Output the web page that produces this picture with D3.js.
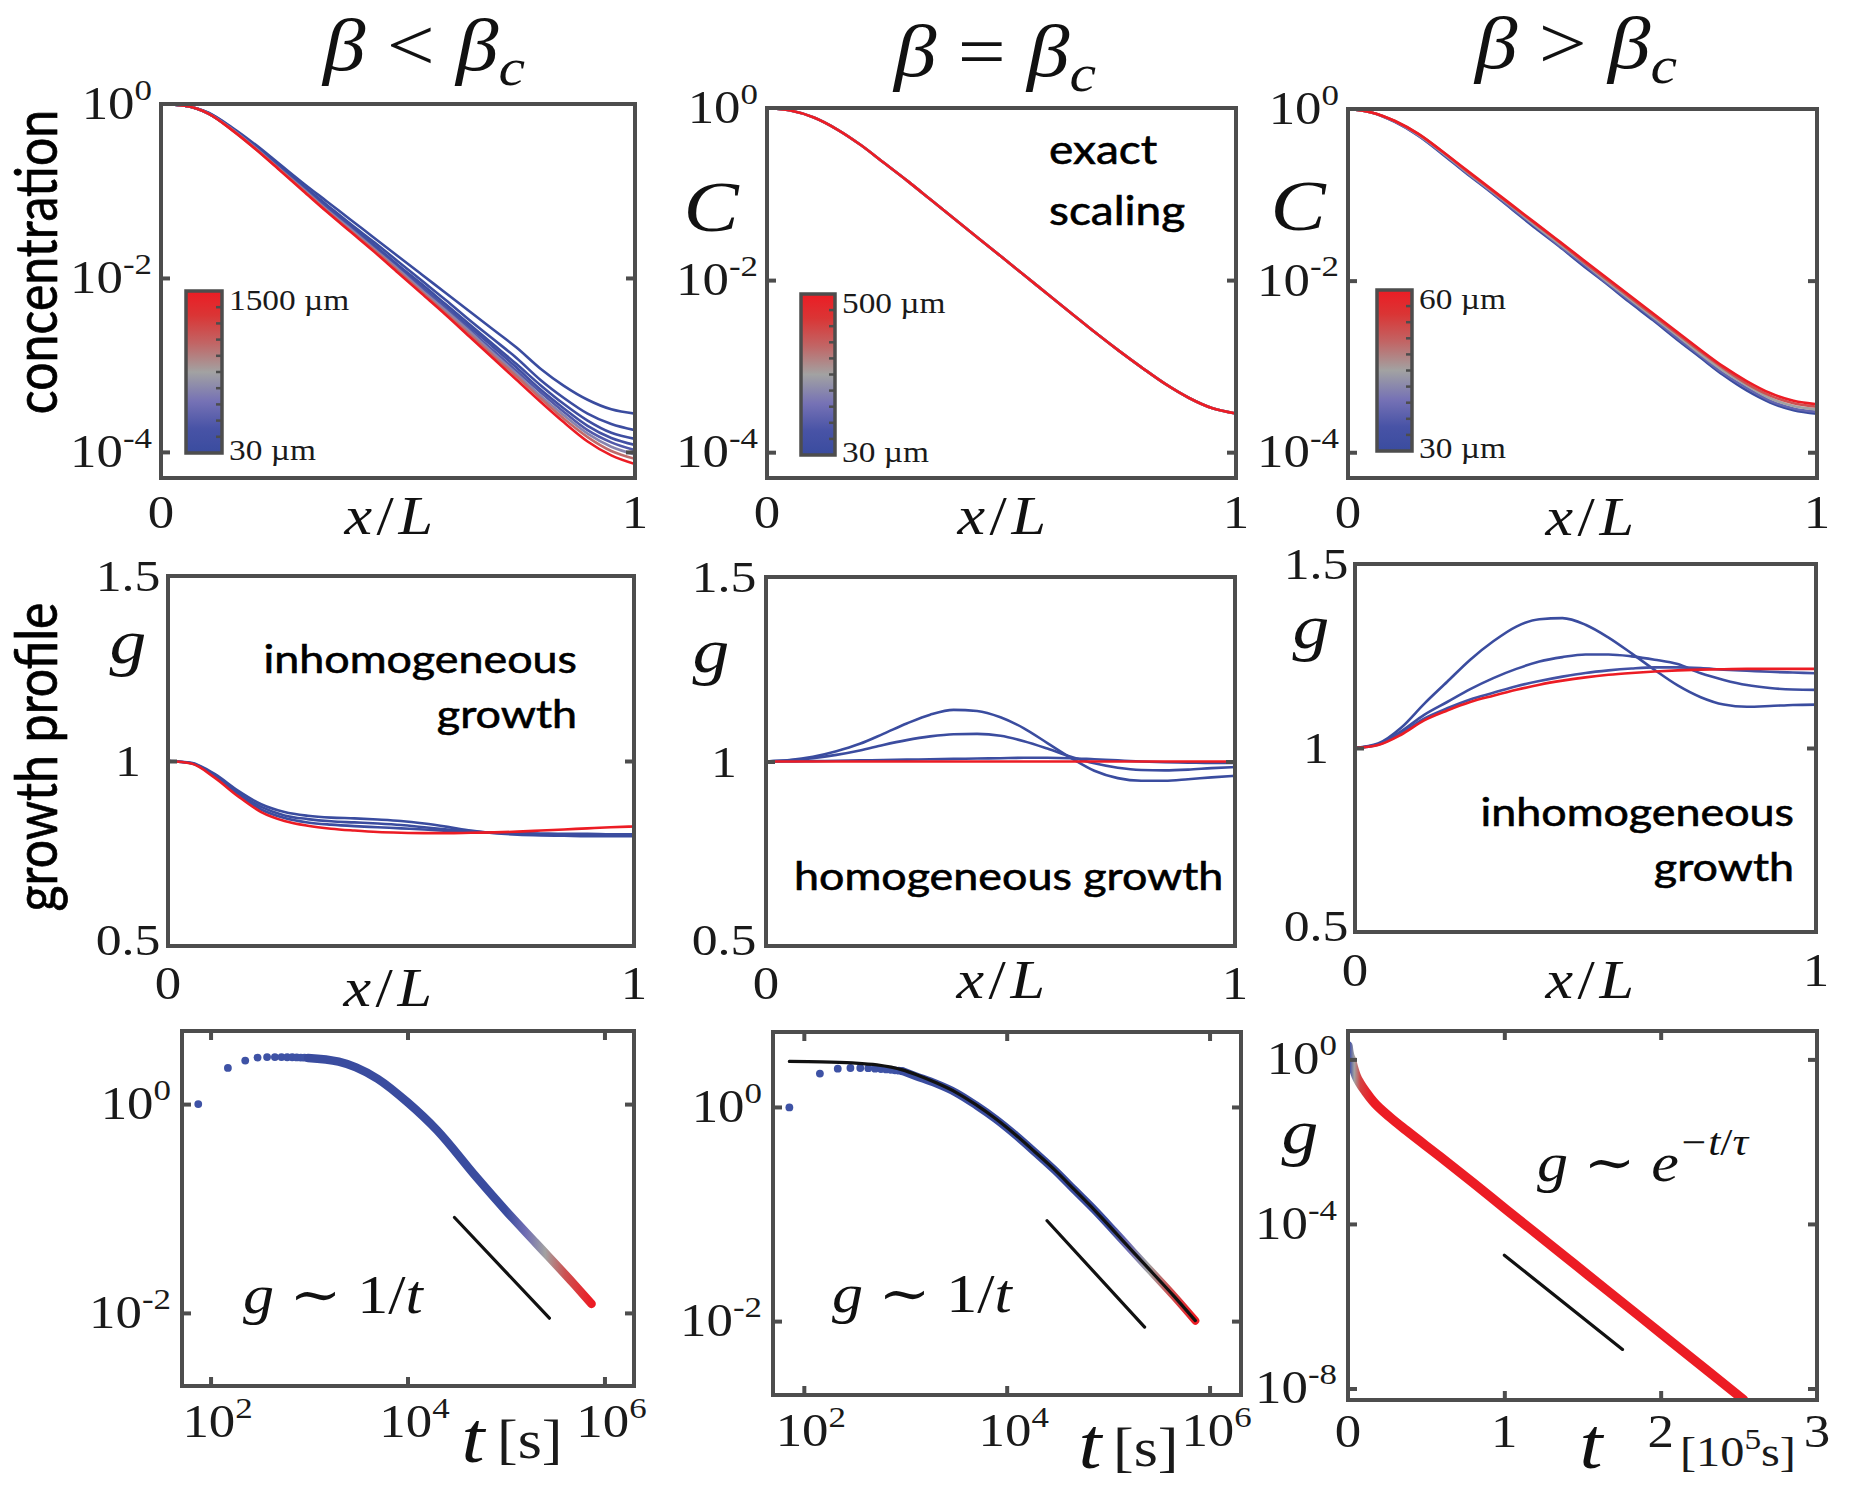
<!DOCTYPE html>
<html>
<head>
<meta charset="utf-8">
<title>Concentration and growth profiles</title>
<script src="https://cdn.jsdelivr.net/npm/d3@7/dist/d3.min.js"></script>
<style>
  html, body { margin: 0; background: #ffffff; }
  svg { display: block; }
  .serif { font-family: "Liberation Serif", "DejaVu Serif", serif; fill: #1a1a1a; }
  .ital { font-family: "Liberation Serif", "DejaVu Serif", serif; font-style: italic; fill: #111; }
  .up { font-style: normal; }
  .sans { font-family: Lato, "Open Sans", sans-serif; fill: #000; stroke: #000; stroke-width: 0.6px; }
  .frame { fill: none; stroke: #4d4d4d; stroke-width: 4; }
  .axis path { display: none; }
  .axis line { stroke: #4d4d4d; stroke-width: 4; }
</style>
</head>
<body>
<svg id="fig" width="1854" height="1486"></svg>
<script>
// ---------------- data ----------------
// positions along the tissue, x/L
const xPos = [0, 0.05, 0.1, 0.15, 0.2, 0.25, 0.3, 0.35, 0.4, 0.45, 0.5,
              0.55, 0.6, 0.65, 0.7, 0.75, 0.8, 0.85, 0.9, 0.95, 1];

// concentration profiles, log10 C, beta < beta_c (one row per tissue length)
const concBelowLengths = [30, 60, 90, 150, 300, 600, 1000, 1500];
const concBelowLog10 = [
  [0,-0.02,-0.10,-0.27,-0.47,-0.69,-0.91,-1.12,-1.33,-1.54,-1.75,-1.96,-2.17,-2.38,-2.59,-2.80,-3.04,-3.24,-3.40,-3.51,-3.56],
  [0,-0.02,-0.10,-0.28,-0.49,-0.71,-0.94,-1.16,-1.38,-1.59,-1.81,-2.03,-2.25,-2.48,-2.70,-2.92,-3.17,-3.38,-3.56,-3.68,-3.75],
  [0,-0.02,-0.11,-0.29,-0.50,-0.73,-0.96,-1.18,-1.40,-1.62,-1.85,-2.07,-2.30,-2.53,-2.76,-2.99,-3.23,-3.45,-3.64,-3.78,-3.85],
  [0,-0.02,-0.11,-0.29,-0.50,-0.73,-0.97,-1.19,-1.42,-1.64,-1.87,-2.10,-2.33,-2.56,-2.79,-3.03,-3.28,-3.50,-3.70,-3.84,-3.92],
  [0,-0.02,-0.11,-0.29,-0.51,-0.74,-0.97,-1.21,-1.43,-1.66,-1.89,-2.12,-2.35,-2.59,-2.83,-3.07,-3.31,-3.54,-3.75,-3.89,-3.98],
  [0,-0.02,-0.11,-0.29,-0.51,-0.75,-0.98,-1.22,-1.44,-1.67,-1.90,-2.14,-2.37,-2.61,-2.86,-3.10,-3.35,-3.58,-3.79,-3.94,-4.03],
  [0,-0.02,-0.11,-0.30,-0.52,-0.75,-0.99,-1.23,-1.46,-1.68,-1.92,-2.16,-2.40,-2.64,-2.89,-3.13,-3.38,-3.62,-3.83,-3.99,-4.08],
  [0,-0.02,-0.11,-0.30,-0.52,-0.76,-1.00,-1.24,-1.47,-1.70,-1.94,-2.18,-2.42,-2.67,-2.92,-3.17,-3.42,-3.66,-3.88,-4.04,-4.14]
];

// beta = beta_c: every length collapses onto one profile
const concCriticalLengths = [30, 150, 300, 500];
const concCriticalLog10 = [0,-0.03,-0.11,-0.25,-0.43,-0.64,-0.85,-1.07,-1.29,-1.51,-1.73,-1.95,-2.17,-2.39,-2.61,-2.82,-3.02,-3.21,-3.37,-3.49,-3.55];

// beta > beta_c
const concAboveLengths = [30, 37.5, 45, 52.5, 60];
const concAboveLog10 = [
  [0,-0.04,-0.15,-0.31,-0.52,-0.74,-0.95,-1.17,-1.39,-1.60,-1.82,-2.03,-2.25,-2.46,-2.68,-2.89,-3.10,-3.28,-3.42,-3.51,-3.55],
  [0,-0.04,-0.15,-0.31,-0.51,-0.73,-0.94,-1.16,-1.37,-1.59,-1.80,-2.02,-2.23,-2.44,-2.66,-2.87,-3.08,-3.25,-3.40,-3.49,-3.53],
  [0,-0.04,-0.14,-0.30,-0.50,-0.72,-0.93,-1.14,-1.36,-1.57,-1.78,-2.00,-2.21,-2.42,-2.63,-2.85,-3.05,-3.22,-3.37,-3.46,-3.50],
  [0,-0.04,-0.14,-0.29,-0.49,-0.71,-0.92,-1.13,-1.34,-1.55,-1.77,-1.98,-2.19,-2.40,-2.61,-2.82,-3.02,-3.20,-3.34,-3.43,-3.47],
  [0,-0.04,-0.14,-0.29,-0.49,-0.70,-0.91,-1.12,-1.33,-1.54,-1.75,-1.96,-2.17,-2.38,-2.59,-2.80,-3.00,-3.17,-3.31,-3.40,-3.44]
];

// growth profiles g(x)
const growthBelowLengths = [30, 40, 60, 1500];
const growthBelow = [
  [1.0,0.995,0.965,0.920,0.883,0.862,0.852,0.847,0.845,0.842,0.838,0.831,0.822,0.812,0.805,0.801,0.799,0.798,0.797,0.797,0.797],
  [1.0,0.994,0.962,0.914,0.876,0.853,0.843,0.837,0.834,0.831,0.827,0.821,0.815,0.810,0.806,0.804,0.802,0.801,0.800,0.800,0.800],
  [1.0,0.994,0.959,0.910,0.869,0.846,0.834,0.828,0.824,0.821,0.818,0.815,0.811,0.808,0.806,0.805,0.804,0.803,0.803,0.802,0.802],
  [1.0,0.993,0.955,0.905,0.862,0.838,0.825,0.817,0.812,0.808,0.806,0.805,0.805,0.806,0.807,0.809,0.812,0.815,0.818,0.821,0.823]
];

const growthCriticalLengths = [30, 35, 45, 500];
const growthCritical = [
  [1.0,1.004,1.013,1.028,1.048,1.075,1.103,1.127,1.140,1.137,1.120,1.090,1.050,1.010,0.975,0.955,0.948,0.948,0.952,0.957,0.961],
  [1.0,1.003,1.009,1.018,1.030,1.045,1.058,1.068,1.074,1.075,1.070,1.055,1.035,1.013,0.995,0.983,0.977,0.976,0.978,0.982,0.985],
  [1.0,1.000,1.001,1.002,1.003,1.004,1.005,1.006,1.007,1.008,1.009,1.010,1.010,1.009,1.006,1.003,1.000,0.998,0.997,0.996,0.996],
  [1.0,1.000,1.000,1.000,1.000,1.000,1.000,1.000,1.000,1.000,1.000,1.000,1.000,1.000,1.000,1.000,1.000,1.000,1.000,1.000,1.000]
];

const growthAboveLengths = [30, 31, 33, 60];
const growthAbove = [
  [1.0,1.012,1.055,1.120,1.180,1.240,1.290,1.330,1.350,1.353,1.335,1.300,1.257,1.212,1.170,1.138,1.118,1.112,1.114,1.117,1.118],
  [1.0,1.010,1.045,1.090,1.125,1.160,1.190,1.215,1.235,1.247,1.254,1.254,1.249,1.240,1.228,1.203,1.185,1.171,1.163,1.159,1.158],
  [1.0,1.009,1.040,1.080,1.108,1.132,1.150,1.168,1.182,1.194,1.204,1.211,1.216,1.219,1.219,1.217,1.213,1.210,1.207,1.205,1.203],
  [1.0,1.008,1.036,1.075,1.102,1.125,1.142,1.158,1.172,1.183,1.192,1.199,1.204,1.208,1.211,1.213,1.214,1.215,1.215,1.215,1.215]
];

// total growth vs time, beta < beta_c: early individual samples then the dense run
const growthTimeBelowDots_t = [75, 150, 225, 300, 375, 450, 525, 600, 675, 750, 825, 900, 975];
const growthTimeBelowDots_g = [1.0, 2.22, 2.61, 2.79, 2.82, 2.82, 2.82, 2.81, 2.81, 2.80, 2.79, 2.78, 2.77];
const growthTimeBelowRun_t = [975, 2000, 3000, 5000, 1e4, 2e4, 5e4, 1e5, 2e5, 5e5, 7.4e5];
const growthTimeBelowRun_g = [2.77, 2.55, 2.25, 1.74, 1.04, 0.56, 0.20, 0.095, 0.047, 0.0185, 0.0122];
const slopeBelow_t = [3.0e4, 2.76e5];
const slopeBelow_g = [0.082, 0.0089];

// beta = beta_c, with the analytical curve in black
const growthTimeCritDots_t = [72, 144, 216, 288, 360, 432, 504, 576, 648, 720, 792, 864, 936];
const growthTimeCritDots_g = [0.99, 2.05, 2.28, 2.31, 2.31, 2.30, 2.28, 2.26, 2.24, 2.22, 2.20, 2.18, 2.16];
const growthTimeCritRun_t = [936, 1290, 2020, 3160, 4970, 7800, 12200, 19000, 29900, 46800, 73500, 115000, 180000, 282000, 441000, 724000];
const growthTimeCritRun_g = [2.16, 1.93, 1.65, 1.36, 1.04, 0.77, 0.547, 0.378, 0.256, 0.167, 0.109, 0.069, 0.0434, 0.0274, 0.0173, 0.0101];
const theoryCrit_t = [72, 150, 300, 525, 936, 1290, 2020, 3160, 4970, 7800, 12200, 19000, 29900, 46800, 73500, 115000, 180000, 282000, 441000, 724000];
const theoryCrit_g = [2.66, 2.64, 2.58, 2.47, 2.22, 2.0, 1.68, 1.37, 1.05, 0.775, 0.55, 0.38, 0.257, 0.168, 0.109, 0.069, 0.0434, 0.0274, 0.0173, 0.0101];
const slopeCrit_t = [2.5e4, 2.29e5];
const slopeCrit_g = [0.0865, 0.0088];

// beta > beta_c, time in units of 1e5 s, log10 g
const decayAbove_t = [0, 0.006, 0.02, 0.035, 0.053, 0.075, 0.118, 0.16, 0.267, 0.374, 0.588, 0.80, 1.015, 1.23, 1.44, 1.656, 1.87, 2.08, 2.30, 2.53];
const decayAboveLog10g = [0.33, 0.17, 0.0, -0.2, -0.41, -0.57, -0.81, -1.02, -1.40, -1.73, -2.36, -3.0, -3.66, -4.31, -4.95, -5.61, -6.26, -6.90, -7.57, -8.27];
const slopeAbove_t = [1.0, 1.756];
const slopeAboveLog10g = [-4.76, -7.05];

// colour along the length/time run (0 = shortest, 1 = longest)
const runColorBelow_t = [975, 1e5, 1.6e5, 2.5e5, 4e5, 7.4e5];
const runColorBelow_f = [0, 0, 0.3, 0.5, 0.75, 1];
const runColorCrit_t = [936, 1e5, 1.6e5, 2.5e5, 4e5, 7.2e5];
const runColorCrit_f = [0, 0, 0.3, 0.5, 0.75, 1];
const runColorAbove_t = [0, 0.012, 0.04, 0.08, 0.15];
const runColorAbove_f = [0, 0.1, 0.5, 0.8, 1];

// tick values
const concTicks = [1, 1e-2, 1e-4];
const growthTicks = [0.5, 1, 1.5];
const timeTicks = [1e2, 1e4, 1e6];
const gTimeTicks = [1, 1e-2];
const decayTimeTicks = [0, 1, 2, 3];
const decayGTicks = [1, 1e-4, 1e-8];

// blue - grey - red colour map
const colorStops = [
  [0.00, '#3a4c9f'], [0.15, '#4853a6'], [0.32, '#7672b5'], [0.50, '#a2a2a2'],
  [0.68, '#c26464'], [0.85, '#da3535'], [1.00, '#ec1c24']
];

// ---------------- drawing ----------------
const svg = d3.select('#fig');
const defs = svg.append('defs');
const SX = 1.15;   // lettering is set slightly wide
const cmap = d3.scaleLinear()
  .domain(colorStops.map(d => d[0]))
  .range(colorStops.map(d => d[1]))
  .interpolate(d3.interpolateRgb).clamp(true);

function addText(parent, x, y, cls, size, anchor) {
  return parent.append('text').attr('class', cls)
    .attr('transform', `translate(${x},${y}) scale(${SX},1)`)
    .attr('text-anchor', anchor || 'start')
    .style('font-size', size + 'px');
}
function powerLabel(parent, x, y, exp, size, anchor) {
  const t = addText(parent, x, y, 'serif', size, anchor);
  t.append('tspan').text('10');
  t.append('tspan').attr('dy', -0.42 * size).style('font-size', (0.66 * size) + 'px').text(exp);
  return t;
}
function expOf(v) { return String(Math.round(Math.log10(v))); }

function makePanel(id, box, xScale, yScale) {
  const [x0, y0, x1, y1] = box;
  const x = xScale.range([x0, x1]);
  const y = yScale.range([y1, y0]);
  defs.append('clipPath').attr('id', 'clip-' + id)
    .append('rect').attr('x', x0).attr('y', y0).attr('width', x1 - x0).attr('height', y1 - y0);
  const g = svg.append('g').attr('class', 'panel-' + id);
  const plot = g.append('g').attr('clip-path', `url(#clip-${id})`);
  return { id, g, plot, x, y, x0, y0, x1, y1 };
}

function drawBox(p, yTicks, xTicks) {
  const len = 9;
  const strip = s => s.selectAll('text').remove();
  p.g.append('g').attr('class', 'axis').attr('transform', `translate(${p.x0},0)`)
    .call(d3.axisLeft(p.y).tickValues(yTicks).tickSize(-len)).call(strip);
  p.g.append('g').attr('class', 'axis').attr('transform', `translate(${p.x1},0)`)
    .call(d3.axisRight(p.y).tickValues(yTicks).tickSize(-len)).call(strip);
  if (xTicks) {
    p.g.append('g').attr('class', 'axis').attr('transform', `translate(0,${p.y1})`)
      .call(d3.axisBottom(p.x).tickValues(xTicks).tickSize(-len)).call(strip);
    p.g.append('g').attr('class', 'axis').attr('transform', `translate(0,${p.y0})`)
      .call(d3.axisTop(p.x).tickValues(xTicks).tickSize(-len)).call(strip);
  }
  p.g.append('rect').attr('class', 'frame')
    .attr('x', p.x0).attr('y', p.y0).attr('width', p.x1 - p.x0).attr('height', p.y1 - p.y0);
}

function drawProfiles(p, rows, lengths, lo, hi, isLog, width) {
  const line = d3.line()
    .x((d, i) => p.x(xPos[i]))
    .y(d => p.y(isLog ? Math.pow(10, d) : d))
    .curve(d3.curveMonotoneX);
  rows.forEach((vals, k) => {
    p.plot.append('path').attr('d', line(vals))
      .attr('fill', 'none').attr('stroke', cmap((lengths[k] - lo) / (hi - lo)))
      .attr('stroke-width', width).attr('stroke-linejoin', 'round');
  });
}

function colorbar(p, bx, by, bw, bh, topLabel, botLabel) {
  const gid = 'cbar-' + p.id;
  const grad = defs.append('linearGradient').attr('id', gid)
    .attr('x1', 0).attr('y1', 1).attr('x2', 0).attr('y2', 0);
  colorStops.forEach(([o, c]) => grad.append('stop').attr('offset', o).attr('stop-color', c));
  p.g.append('rect').attr('x', bx).attr('y', by).attr('width', bw).attr('height', bh)
    .attr('fill', `url(#${gid})`).attr('stroke', '#4d4d4d').attr('stroke-width', 3.5);
  const s = d3.scaleLinear().domain([0, 1]).range([by + bh, by]);
  d3.range(1, 10).map(i => i / 10).forEach(f => {
    p.g.append('line').attr('x1', bx + bw).attr('x2', bx + bw - 6)
      .attr('y1', s(f)).attr('y2', s(f)).attr('stroke', '#4d4d4d').attr('stroke-width', 2.5);
  });
  addText(p.g, bx + bw + 7, by + 19, 'serif', 29, 'start').text(topLabel);
  addText(p.g, bx + bw + 7, by + bh + 7, 'serif', 29, 'start').text(botLabel);
}

function xOverL(p, cx, baseline) {
  const t = addText(p.g, cx, baseline, 'ital', 54, 'middle').style('letter-spacing', '4px');
  t.append('tspan').text('x');
  t.append('tspan').attr('class', 'up').text('/');
  t.append('tspan').text('L');
}
function zeroOne(p, baseline) {
  addText(p.g, p.x0, baseline, 'serif', 46, 'middle').text('0');
  addText(p.g, p.x1, baseline, 'serif', 46, 'middle').text('1');
}
function italicLabel(parent, x, y, s, size) {
  addText(parent, x, y, 'ital', size, 'middle').text(s);
}

// ---- titles ----
function title(cx, baseline, rel) {
  const t = addText(svg, cx, baseline, 'ital', 74, 'middle');
  t.append('tspan').text('β');
  t.append('tspan').attr('class', 'up').text(' ' + rel + ' ');
  t.append('tspan').text('β');
  t.append('tspan').attr('dy', 15).style('font-size', '52px').text('c');
}
title(424, 70, '<');
title(995, 76, '=');
title(1576, 68, '>');

// ---- row labels ----
svg.append('text').attr('class', 'sans')
  .attr('transform', `translate(57,262) scale(${SX},1) rotate(-90)`)
  .attr('text-anchor', 'middle').style('font-size', '50px').text('concentration');
svg.append('text').attr('class', 'sans')
  .attr('transform', `translate(57,757) scale(${SX},1) rotate(-90)`)
  .attr('text-anchor', 'middle').style('font-size', '50px').text('growth profile');

// ---- row 1: concentration ----
const concDomain = [Math.pow(10, -4.3), 1];
function concPanel(id, box, rows, lengths, lo, hi, labelCx, xlBase, cIcon) {
  const p = makePanel(id, box, d3.scaleLinear().domain([0, 1]), d3.scaleLog().domain(concDomain));
  drawProfiles(p, rows, lengths, lo, hi, true, 2.6);
  drawBox(p, concTicks.slice(1));
  concTicks.forEach(v => powerLabel(p.g, p.x0 - 9, p.y(v) + 15, expOf(v), 46, 'end'));
  zeroOne(p, 528);
  xOverL(p, labelCx, xlBase);
  if (cIcon) italicLabel(p.g, cIcon[0], cIcon[1], 'C', 72);
  return p;
}
const pA = concPanel('A', [161, 104, 635, 478], concBelowLog10, concBelowLengths, 30, 1500, 391, 534);
colorbar(pA, 186, 291, 36, 162, '1500 µm', '30 µm');

const pB = concPanel('B', [767, 108, 1236, 478],
  concCriticalLengths.map(() => concCriticalLog10), concCriticalLengths, 30, 500, 1004, 534, [711, 231]);
colorbar(pB, 801, 294, 34, 161, '500 µm', '30 µm');
addText(pB.g, 1049, 164, 'sans', 40, 'start').text('exact');
addText(pB.g, 1049, 225, 'sans', 40, 'start').text('scaling');

const pC = concPanel('C', [1348, 109, 1817, 478], concAboveLog10, concAboveLengths, 30, 60, 1592, 535, [1298, 230]);
colorbar(pC, 1377, 290, 35, 161, '60 µm', '30 µm');

// ---- row 2: growth profile ----
function growthPanel(id, box, rows, lengths, lo, hi, labelCx, xlBase, zeroBase, gPos, labelCol) {
  const p = makePanel(id, box, d3.scaleLinear().domain([0, 1]), d3.scaleLinear().domain([0.5, 1.5]));
  drawProfiles(p, rows, lengths, lo, hi, false, 2.6);
  drawBox(p, [1]);
  growthTicks.forEach(v => addText(p.g, labelCol, p.y(v) + (v === 0.5 ? 9 : 15), 'serif', 45, 'middle').text(String(v)));
  zeroOne(p, zeroBase);
  xOverL(p, labelCx, xlBase);
  italicLabel(p.g, gPos[0], gPos[1], 'g', 64);
  return p;
}
const pD = growthPanel('D', [168, 576, 634, 946], growthBelow, growthBelowLengths, 30, 1500, 390, 1006, 999, [128, 663], 128);
addText(pD.g, 577, 673, 'sans', 39, 'end').text('inhomogeneous');
addText(pD.g, 577, 728, 'sans', 39, 'end').text('growth');

const pE = growthPanel('E', [766, 577, 1235, 946], growthCritical, growthCriticalLengths, 30, 500, 1003, 998, 999, [711, 672], 724);
addText(pE.g, 794, 890, 'sans', 39, 'start').text('homogeneous growth');

const pF = growthPanel('F', [1355, 564, 1816, 932], growthAbove, growthAboveLengths, 30, 60, 1592, 998, 986, [1311, 648], 1316);
addText(pF.g, 1794, 826, 'sans', 39, 'end').text('inhomogeneous');
addText(pF.g, 1794, 881, 'sans', 39, 'end').text('growth');

// ---- row 3: growth versus time ----
function runGradient(p, id, ts, fs) {
  const grad = defs.append('linearGradient').attr('id', id).attr('gradientUnits', 'userSpaceOnUse')
    .attr('x1', p.x0).attr('x2', p.x1).attr('y1', 0).attr('y2', 0);
  ts.forEach((t, i) => grad.append('stop')
    .attr('offset', (p.x(t) - p.x0) / (p.x1 - p.x0)).attr('stop-color', cmap(fs[i])));
}
function drawRun(p, ts, gs, stroke, width) {
  const line = d3.line().x((d, i) => p.x(ts[i])).y(d => p.y(d)).curve(d3.curveMonotoneX);
  p.plot.append('path').attr('d', line(gs)).attr('fill', 'none')
    .attr('stroke', stroke).attr('stroke-width', width)
    .attr('stroke-linecap', 'round').attr('stroke-linejoin', 'round');
}
function drawDots(p, ts, gs) {
  p.plot.selectAll(null).data(gs).enter().append('circle')
    .attr('cx', (d, i) => p.x(ts[i])).attr('cy', d => p.y(d)).attr('r', 3.9)
    .attr('fill', '#3e52a5');
}
function logTimeLabels(p, base) {
  timeTicks.forEach(v => powerLabel(p.g, p.x(v) + 7, base, expOf(v), 46, 'middle'));
}
function mathFit(parent, x, y) {
  const t = addText(parent, x, y, 'ital', 54, 'start');
  t.append('tspan').text('g');
  t.append('tspan').attr('class', 'up').text(' ∼ 1/');
  t.append('tspan').text('t');
}

// beta < beta_c
const pG = makePanel('G', [182, 1031, 634, 1386],
  d3.scaleLog().domain([Math.pow(10, 1.71), Math.pow(10, 6.3)]),
  d3.scaleLog().domain([Math.pow(10, -2.7), Math.pow(10, 0.7)]));
runGradient(pG, 'runG', runColorBelow_t, runColorBelow_f);
drawDots(pG, growthTimeBelowDots_t, growthTimeBelowDots_g);
drawRun(pG, growthTimeBelowRun_t, growthTimeBelowRun_g, 'url(#runG)', 8.5);
drawRun(pG, slopeBelow_t, slopeBelow_g, '#111', 3.2);
drawBox(pG, gTimeTicks, timeTicks);
gTimeTicks.forEach(v => powerLabel(pG.g, pG.x0 - 11, pG.y(v) + 15, expOf(v), 46, 'end'));
logTimeLabels(pG, 1437);
italicLabel(pG.g, 473, 1462, 't', 72);
addText(pG.g, 497, 1458, 'serif', 54, 'start').text('[s]');
mathFit(pG.g, 243, 1313);

// beta = beta_c
const pH = makePanel('H', [773, 1032, 1241, 1395],
  d3.scaleLog().domain([Math.pow(10, 1.696), Math.pow(10, 6.31)]),
  d3.scaleLog().domain([Math.pow(10, -2.69), Math.pow(10, 0.7)]));
runGradient(pH, 'runH', runColorCrit_t, runColorCrit_f);
drawDots(pH, growthTimeCritDots_t, growthTimeCritDots_g);
drawRun(pH, growthTimeCritRun_t, growthTimeCritRun_g, 'url(#runH)', 8);
drawRun(pH, theoryCrit_t, theoryCrit_g, '#111', 3.2);
drawRun(pH, slopeCrit_t, slopeCrit_g, '#111', 3.2);
drawBox(pH, gTimeTicks, timeTicks);
gTimeTicks.forEach(v => powerLabel(pH.g, pH.x0 - 11, pH.y(v) + 15, expOf(v), 46, 'end'));
logTimeLabels(pH, 1446);
italicLabel(pH.g, 1090, 1468, 't', 72);
addText(pH.g, 1113, 1466, 'serif', 54, 'start').text('[s]');
mathFit(pH.g, 832, 1312);

// beta > beta_c
const pI = makePanel('I', [1348, 1031, 1817, 1400],
  d3.scaleLinear().domain([0, 3]),
  d3.scaleLog().domain([Math.pow(10, -8.28), Math.pow(10, 0.69)]));
runGradient(pI, 'runI', runColorAbove_t, runColorAbove_f);
drawRun(pI, decayAbove_t, decayAboveLog10g.map(v => Math.pow(10, v)), 'url(#runI)', 9.5);
drawRun(pI, slopeAbove_t, slopeAboveLog10g.map(v => Math.pow(10, v)), '#111', 3.2);
drawBox(pI, decayGTicks, decayTimeTicks.slice(1, 3));
decayGTicks.forEach(v => powerLabel(pI.g, pI.x0 - 11, pI.y(v) + 15, expOf(v), 46, 'end'));
decayTimeTicks.forEach(v => addText(pI.g, pI.x(v), 1447, 'serif', 46, 'middle').text(String(v)));
italicLabel(pI.g, 1300, 1153, 'g', 64);
italicLabel(pI.g, 1591, 1468, 't', 72);
{
  const t = addText(pI.g, 1680, 1466, 'serif', 42, 'start');
  t.append('tspan').text('[10');
  t.append('tspan').attr('dy', -17).style('font-size', '29px').text('5');
  t.append('tspan').attr('dy', 17).text('s]');
}
{
  const t = addText(pI.g, 1537, 1181, 'ital', 54, 'start');
  t.append('tspan').text('g');
  t.append('tspan').attr('class', 'up').text(' ∼ ');
  t.append('tspan').text('e');
  t.append('tspan').attr('dy', -26).style('font-size', '38px').text('−t');
  t.append('tspan').attr('class', 'up').style('font-size', '38px').text('/');
  t.append('tspan').style('font-size', '38px').text('τ');
}
</script>
</body>
</html>
